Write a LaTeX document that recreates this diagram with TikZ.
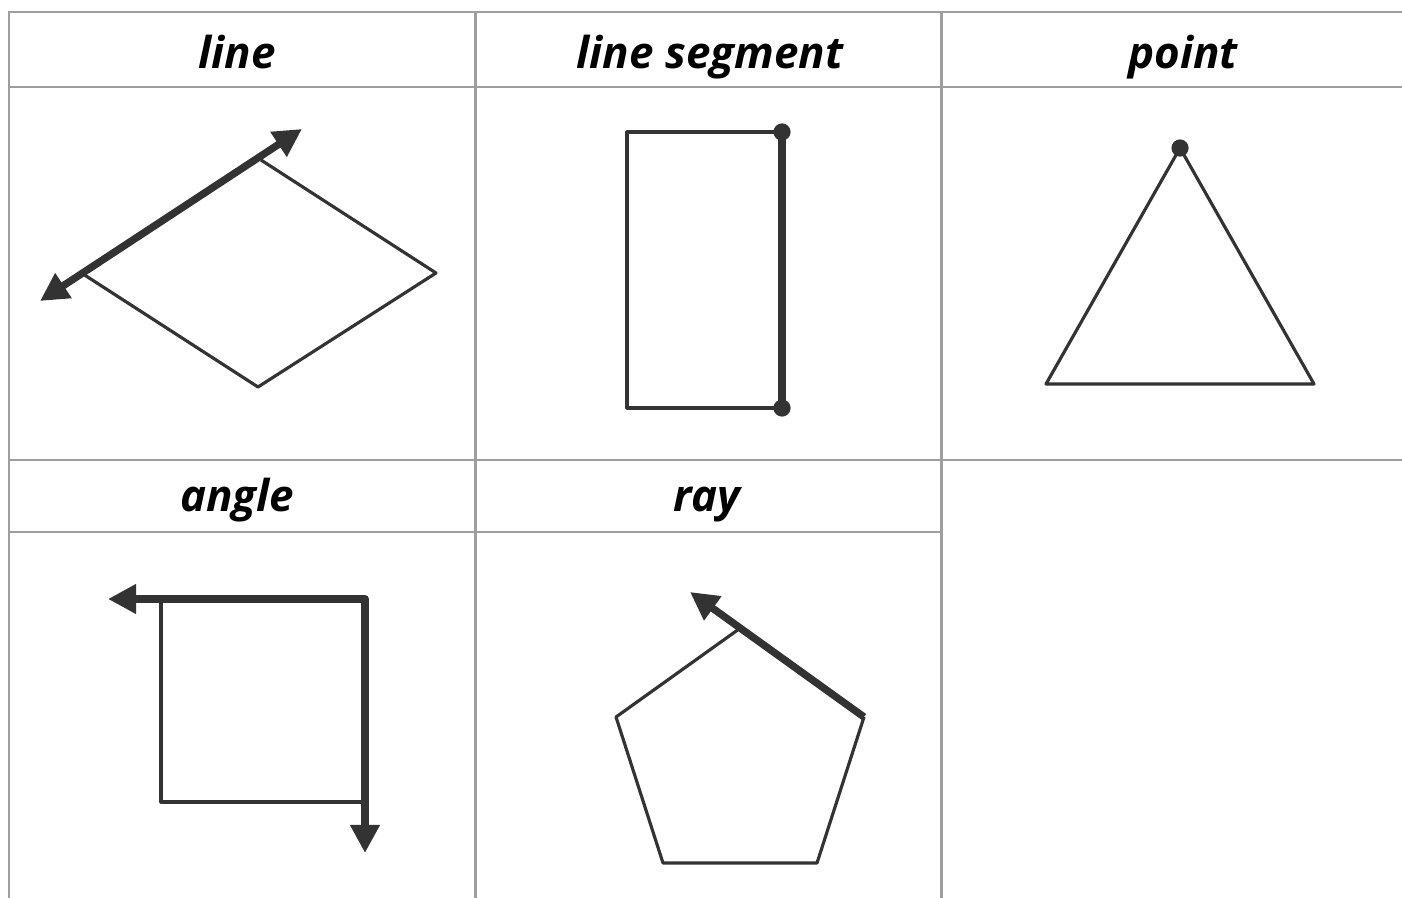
\documentclass[tikz,border=0pt]{standalone}
\usepackage{fontspec}
\setmainfont{Open Sans}
\usetikzlibrary{arrows.meta}
\definecolor{gridgray}{HTML}{9E9E9E}
\definecolor{shapeink}{HTML}{333333}

\begin{document}
\begin{tikzpicture}[
    x=0.02cm, y=-0.02cm,
    >={Triangle[length=16pt, width=16pt]},
    every node/.style={font=\fontsize{25}{30}\selectfont\bfseries\itshape, text=black, anchor=base},
    gridline/.style={draw=gridgray, line width=1.7pt},
    thinedge/.style={draw=shapeink, line width=1.8pt, line join=round},
    thickedge/.style={draw=shapeink, line width=4.2pt, line join=round},
    dotmark/.style={fill=shapeink}
]
    \useasboundingbox (0,0) rectangle (1402,898);

    % Table grid
    \draw[gridline] (1402,12) -- (9,12) -- (9,898);
    \draw[gridline] (9,87) -- (1402,87);
    \draw[gridline] (9,460) -- (1402,460);
    \draw[gridline] (9,532) -- (941,532);
    \draw[gridline] (475,12) -- (475,898);
    \draw[gridline] (941,12) -- (941,898);

    % Headings
    \node (hline) at (237,69) {line};
    \node (hsegment) at (710,69) {line segment};
    \node (hpoint) at (1183,69) {point};
    \node (hangle) at (237,511) {angle};
    \node (hray) at (707,511) {ray};

    % Line: rhombus with one side extended both ways
    \coordinate (RL) at (83,274);
    \coordinate (RT) at (261,160);
    \coordinate (RR) at (436,273);
    \coordinate (RB) at (258,387);
    \coordinate (RLtip) at (40,301);
    \coordinate (RTtip) at (302,129);
    \draw[thinedge] (RL) -- (RB) -- (RR) -- (RT);
    \draw[thickedge, <->] (RLtip) -- (RTtip);

    % Line segment: rectangle with one side marked
    \coordinate (SA) at (627,132);
    \coordinate (SB) at (782,132);
    \coordinate (SC) at (782,408);
    \coordinate (SD) at (627,408);
    \draw[thinedge] (SB) -- (SA) -- (SD) -- (SC);
    \draw[thickedge] (SB) -- (SC);
    \fill[dotmark] (SB) circle[radius=4.9pt];
    \fill[dotmark] (SC) circle[radius=4.9pt];

    % Point: triangle with its apex marked
    \coordinate (TA) at (1180,148);
    \coordinate (TL) at (1046,384);
    \coordinate (TR) at (1314,384);
    \draw[thinedge] (TA) -- (TL) -- (TR) -- cycle;
    \fill[dotmark] (TA) circle[radius=4.9pt];

    % Angle: square with two sides turned into rays
    \coordinate (QA) at (161,599);
    \coordinate (QB) at (365,599);
    \coordinate (QC) at (365,802);
    \coordinate (QD) at (161,802);
    \coordinate (QAtip) at (108,599);
    \coordinate (QCtip) at (365,853);
    \draw[thinedge] (QA) -- (QD) -- (QC);
    \draw[thickedge, <->] (QAtip) -- (QB) -- (QCtip);

    % Ray: pentagon with one side extended
    \coordinate (PT) at (739,629);
    \coordinate (PR) at (864,717);
    \coordinate (PBR) at (817,863);
    \coordinate (PBL) at (663,863);
    \coordinate (PL) at (616,717);
    \coordinate (PTtip) at (690,592);
    \draw[thinedge] (PT) -- (PL) -- (PBL) -- (PBR) -- (PR);
    \draw[thickedge, ->] (PR) -- (PTtip);
\end{tikzpicture}
\end{document}
